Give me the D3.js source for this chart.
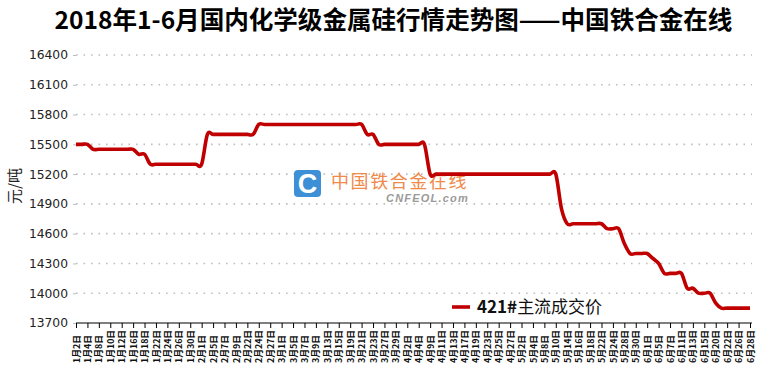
<!DOCTYPE html>
<html><head><meta charset="utf-8">
<script src="https://cdn.jsdelivr.net/npm/d3@7"></script>
<style>body{margin:0;background:#fff}svg{display:block}</style>
</head><body>
<svg id="c" width="760" height="371"></svg>
<script>
const titleText = "2018年1-6月国内化学级金属硅行情走势图——中国铁合金在线";
const yLabel = "元/吨";
const seriesName = "421#主流成交价";
const dates = ["1月2日","1月3日","1月4日","1月5日","1月8日","1月9日","1月10日","1月11日","1月12日","1月15日","1月16日","1月17日","1月18日","1月19日","1月22日","1月23日","1月24日","1月25日","1月26日","1月29日","1月30日","1月31日",
"2月1日","2月2日","2月5日","2月6日","2月7日","2月8日","2月9日","2月12日","2月22日","2月23日","2月24日","2月26日","2月27日","2月28日",
"3月1日","3月2日","3月5日","3月6日","3月7日","3月8日","3月9日","3月12日","3月13日","3月14日","3月15日","3月16日","3月19日","3月20日","3月21日","3月22日","3月23日","3月26日","3月27日","3月28日","3月29日","3月30日",
"4月2日","4月3日","4月4日","4月8日","4月9日","4月10日","4月11日","4月12日","4月13日","4月16日","4月17日","4月18日","4月19日","4月20日","4月23日","4月24日","4月25日","4月26日","4月27日","4月28日",
"5月2日","5月3日","5月4日","5月7日","5月8日","5月9日","5月10日","5月11日","5月14日","5月15日","5月16日","5月17日","5月18日","5月21日","5月22日","5月23日","5月24日","5月25日","5月28日","5月29日","5月30日","5月31日",
"6月1日","6月4日","6月5日","6月6日","6月7日","6月8日","6月11日","6月12日","6月13日","6月14日","6月15日","6月19日","6月20日","6月21日","6月22日","6月25日","6月26日","6月27日","6月28日"];
const prices = [15500,15500,15500,15450,15450,15450,15450,15450,15450,15450,15450,15400,15400,
15300,15300,15300,15300,15300,15300,15300,15300,15300,15300,
15600,15600,15600,15600,15600,15600,15600,15600,15600,
15700,15700,15700,15700,15700,15700,15700,15700,15700,15700,15700,15700,15700,15700,15700,15700,15700,15700,15700,
15600,15600,
15500,15500,15500,15500,15500,15500,15500,15500,15500,
15200,15200,15200,15200,15200,15200,15200,15200,15200,15200,15200,15200,15200,15200,15200,15200,15200,15200,15200,15200,15200,15200,15200,
14850,
14700,14700,14700,14700,14700,14700,14700,
14650,14650,14650,
14500,
14400,14400,14400,14400,
14350,14300,
14200,14200,14200,14200,
14050,14050,
14000,14000,14000,
13900,
13850,13850,13850,13850,13850,13850];
const yTicks = [13700,14000,14300,14600,14900,15200,15500,15800,16100,16400];
const tickLabels = dates.filter((d,i)=>i%2===0);

const svg = d3.select("#c");
const x = d3.scalePoint().domain(dates).range([76,750]);
const y = d3.scaleLinear().domain([13700,16400]).range([323,55]);

// gridlines
svg.append("g").selectAll("line").data(yTicks.filter(v=>v>13700)).join("line")
  .attr("x1",76).attr("x2",752).attr("y1",d=>y(d)).attr("y2",d=>y(d))
  .attr("stroke","#BFBFBF").attr("stroke-width",1.6).attr("stroke-dasharray","1.6,5.9");

// y axis
const ya = svg.append("g").attr("transform","translate(76,0)")
  .call(d3.axisLeft(y).tickValues(yTicks).tickSize(3).tickPadding(5).tickFormat(d3.format("d")));
ya.select(".domain").remove();
ya.selectAll(".tick line").attr("stroke","#BBBBBB");
ya.selectAll("text").attr("font-family","DejaVu Sans, Verdana, sans-serif").attr("font-size",12.3).attr("fill","#222");

// x axis
const xa = svg.append("g").attr("transform","translate(0,323)")
  .call(d3.axisBottom(x).tickValues(tickLabels).tickSize(5).tickSizeOuter(0));
xa.select(".domain").attr("stroke","#000").attr("stroke-width",1.2).attr("d","M76,0H752");
xa.selectAll(".tick line").attr("stroke","#000").attr("stroke-width",1);
xa.selectAll(".tick text").attr("transform","rotate(-90)").attr("text-anchor","start")
  .attr("x",-40).attr("y",0).attr("dy","0.35em").attr("dx",0)
  .attr("font-family","Noto Sans CJK SC, sans-serif").attr("font-weight","bold").attr("font-size",8.8).attr("fill","#111");

// watermark
const wm = svg.append("g");
wm.append("rect").attr("x",294).attr("y",170).attr("width",27).attr("height",27).attr("rx",4).attr("fill","#3D8FD6");
wm.append("text").attr("x",307.5).attr("y",193).attr("text-anchor","middle").attr("fill","#fff")
  .attr("font-family","Arial, Liberation Sans, sans-serif").attr("font-weight","bold").attr("font-size",27).text("C");
wm.append("text").attr("x",331).attr("y",188).attr("fill","#F08A4B").attr("font-family","Noto Sans CJK SC, sans-serif")
  .attr("font-size",18).attr("letter-spacing",1.6).text("中国铁合金在线");
wm.append("text").attr("x",386).attr("y",202).attr("fill","#9A9A9A").attr("font-family","Arial, Liberation Sans, sans-serif")
  .attr("font-style","italic").attr("font-weight","bold").attr("font-size",11).attr("letter-spacing",1.2).text("CNFEOL.com");

// line
svg.append("path").datum(prices)
  .attr("fill","none").attr("stroke","#C00000").attr("stroke-width",3.6).attr("stroke-linejoin","round")
  .attr("d", d3.line().x((d,i)=>x(dates[i])).y(d=>y(d)).curve(d3.curveCardinal.tension(0)));

// legend
svg.append("line").attr("x1",452).attr("x2",470).attr("y1",307).attr("y2",307).attr("stroke","#C00000").attr("stroke-width",3.6);
const lg = svg.append("text").attr("x",477).attr("y",313).attr("font-family","Noto Sans CJK SC, sans-serif").attr("font-size",17).attr("fill","#111");
lg.append("tspan").attr("font-weight","bold").text(seriesName.slice(0,4));
lg.append("tspan").text(seriesName.slice(4));

// y label
svg.append("text").attr("transform","translate(20,186) rotate(-90)").attr("text-anchor","middle")
  .attr("font-family","Noto Sans CJK SC, sans-serif").attr("font-size",15).attr("fill","#222").text(yLabel);

// title
const tt = svg.append("text").attr("x",393.5).attr("y",29).attr("text-anchor","middle")
  .attr("font-family","Noto Sans CJK SC, sans-serif").attr("font-weight","bold").attr("font-size",21).attr("fill","#000").text(titleText);
const w = tt.node().getComputedTextLength();
tt.attr("font-size", 21*678/w);
</script>
</body></html>
